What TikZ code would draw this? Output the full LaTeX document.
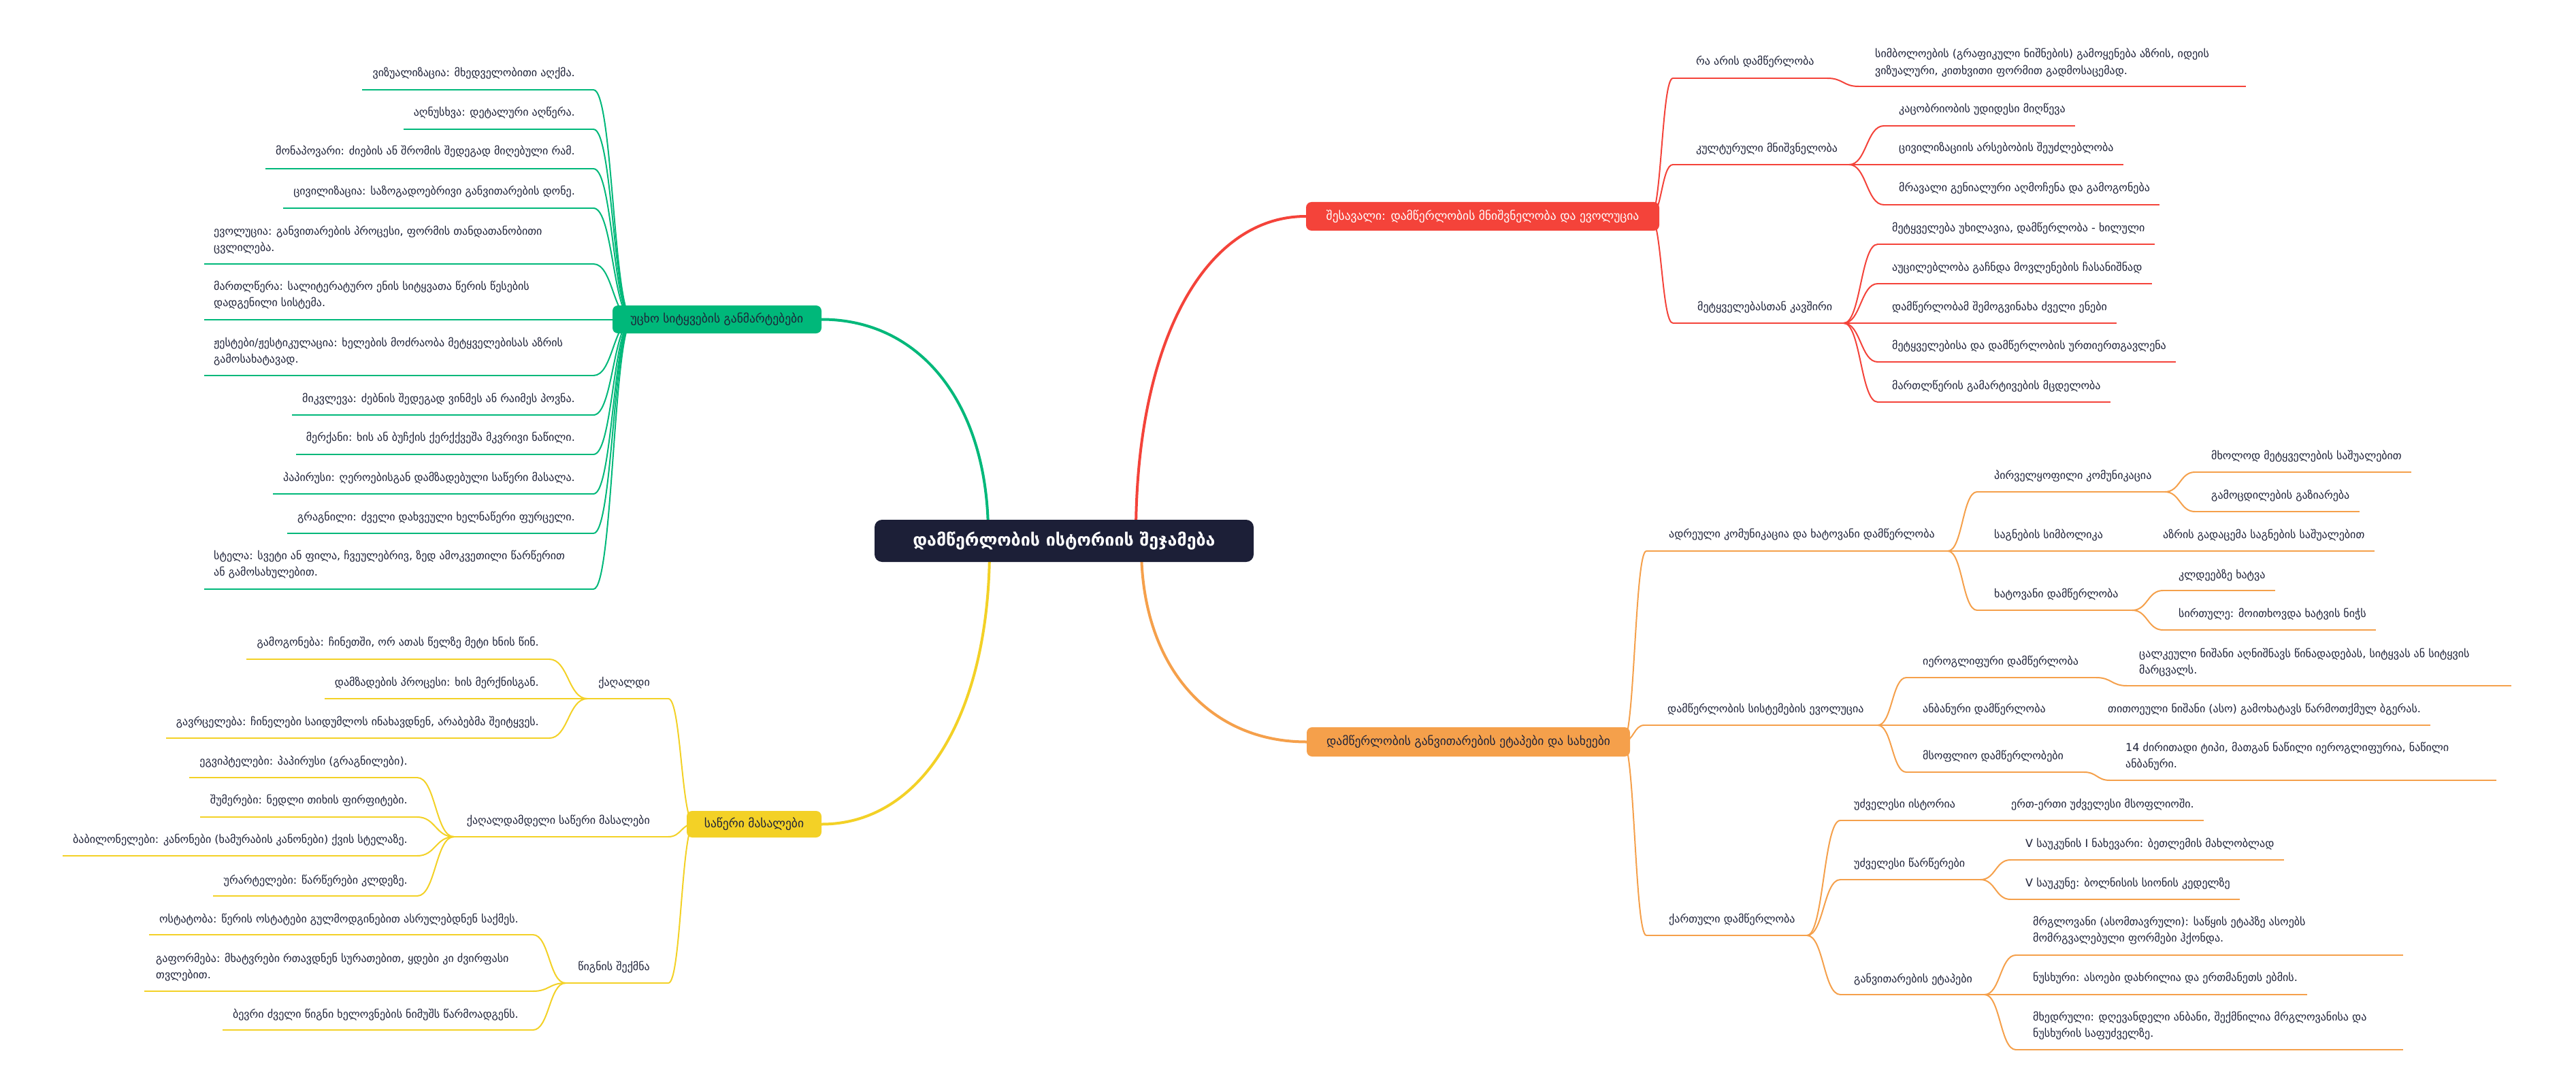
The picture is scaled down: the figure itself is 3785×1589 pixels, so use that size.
\documentclass[tikz,border=0pt]{standalone}
\usepackage{fontspec}
\setmainfont{DejaVu Sans}
\usetikzlibrary{calc}
\pgfdeclarelayer{bg}
\pgfdeclarelayer{paper}
\pgfsetlayers{paper,bg,main}
\definecolor{ink}{HTML}{1E2238}
\definecolor{cred}{HTML}{F4433A}
\definecolor{corange}{HTML}{F5A04B}
\definecolor{cgreen}{HTML}{00B87A}
\definecolor{cyellow}{HTML}{F3D126}
\definecolor{cnavy}{HTML}{1C1F37}
\newcommand\twol[2]{\vtop{\hbox{#1}\hbox{#2}}}
\newcommand\sconn[3]{\draw[#1] let \p1=(#2), \p2=(#3) in (\p1) .. controls ({0.5*\x1+0.5*\x2},\y1) and ({0.5*\x1+0.5*\x2},\y2) .. (\p2);}
\newcommand\mconn[3]{\draw[#1] let \p1=(#2), \p2=(#3) in (\p1) .. controls (\x1,{\y1+0.6*(\y2-\y1)}) and ({\x1+0.4*(\x2-\x1)},\y2) .. (\p2);}
% right item with fixed line: color,name,fork,xs,xe,y,pos,text
\newcommand\Rfix[8]{%
 \coordinate (#2S) at (#4,#6); \coordinate (#2E) at (#5,#6);
 \node[t, anchor=base west] (#2) at (#7) {#8};
 \begin{pgfonlayer}{bg}\sconn{cn,#1}{#3}{#2S}\draw[ul,#1] (#2S) -- (#2E);\end{pgfonlayer}}
% right leaf: color,name,fork,xs,y,pos,text
\newcommand\Rleaf[7]{%
 \coordinate (#2S) at (#4,#5);
 \node[t, anchor=base west] (#2) at (#6) {#7};
 \begin{pgfonlayer}{bg}\sconn{cn,#1}{#3}{#2S}\draw[ul,#1] (#2S) -- (#2S -| #2.east) -- ++(14,0);\end{pgfonlayer}}
% left leaf: color,name,fork,xe,y,pos,text
\newcommand\Lleaf[7]{%
 \coordinate (#2E) at (#4,#5);
 \node[t, anchor=base east] (#2) at (#6) {#7};
 \begin{pgfonlayer}{bg}\sconn{cn,#1}{#2E}{#3}\draw[ul,#1] (#2E) -- (#2E -| #2.west) -- ++(-15,0);\end{pgfonlayer}}
% left fixed: color,name,fork,xs,xe,y,anchor,pos,text
\newcommand\Lfix[9]{%
 \coordinate (#2S) at (#4,#6); \coordinate (#2E) at (#5,#6);
 \node[t, anchor=#7] (#2) at (#8) {#9};
 \begin{pgfonlayer}{bg}\sconn{cn,#1}{#2E}{#3}\draw[ul,#1] (#2S) -- (#2E);\end{pgfonlayer}}
\begin{document}
\begin{tikzpicture}[x=1pt,y=-1pt,
 t/.style={font=\fontsize{16}{24.5}\selectfont, text=ink, inner sep=0pt},
 ul/.style={line width=2.5pt},
 cn/.style={line width=2pt},
 mc/.style={line width=4pt},
 box/.style={rounded corners=8pt, inner sep=0pt, font=\fontsize{17.5}{20}\selectfont}]
\begin{pgfonlayer}{paper}
\fill[white] (0,0) rectangle (3785,1589);
\end{pgfonlayer}
\useasboundingbox (0,0) rectangle (3785,1589);
% boxes
\node[box, fill=cnavy, text=white, minimum width=557pt, minimum height=62pt, rounded corners=11pt, font=\fontsize{25}{30}\selectfont\bfseries] (root) at (1563.5,795) {დამწერლობის ისტორიის შეჯამება};
\node[box, fill=cred, text=white, minimum width=519pt, minimum height=42pt] (red) at (2178.5,318) {შესავალი: დამწერლობის მნიშვნელობა და ევოლუცია};
\node[box, fill=corange, text=ink, minimum width=475pt, minimum height=43pt] (orange) at (2157.5,1090.5) {დამწერლობის განვითარების ეტაპები და სახეები};
\node[box, fill=cgreen, text=ink, minimum width=307pt, minimum height=41pt] (green) at (1053.5,469.5) {უცხო სიტყვების განმარტებები};
\node[box, fill=cyellow, text=ink, minimum width=198pt, minimum height=39pt] (yellow) at (1108,1211.5) {საწერი მასალები};
\coordinate (rootR) at (1669,785);
\coordinate (rootO) at (1677,806);
\coordinate (rootG) at (1452,785);
\coordinate (rootY) at (1454,806);
\coordinate (Rf) at (2425,318);
\coordinate (Of) at (2385,1090);
\coordinate (Gf) at (930,470);
\coordinate (Yf) at (1020,1211);
\begin{pgfonlayer}{bg}
\mconn{mc,cred}{rootR}{red.west}
\mconn{mc,corange}{rootO}{orange.west}
\mconn{mc,cgreen}{rootG}{green.east}
\mconn{mc,cyellow}{rootY}{yellow.east}
\end{pgfonlayer}
% RED
\Rfix{cred}{R1}{Rf}{2458}{2685}{115}{2492,96}{რა არის დამწერლობა}
\Rfix{cred}{R1a}{R1E}{2731}{3300}{127}{2755,85}{\twol{სიმბოლოების (გრაფიკული ნიშნების) გამოყენება აზრის, იდეის}{ვიზუალური, კითხვითი ფორმით გადმოსაცემად.}}
\Rfix{cred}{R2}{Rf}{2458}{2717}{242}{2492,224}{კულტურული მნიშვნელობა}
\Rleaf{cred}{R2a}{R2E}{2768}{185}{2790,166}{კაცობრიობის უდიდესი მიღწევა}
\Rleaf{cred}{R2b}{R2E}{2768}{242}{2790,223}{ცივილიზაციის არსებობის შეუძლებლობა}
\Rleaf{cred}{R2c}{R2E}{2768}{301}{2790,282}{მრავალი გენიალური აღმოჩენა და გამოგონება}
\Rfix{cred}{R3}{Rf}{2458}{2709}{475}{2494,456}{მეტყველებასთან კავშირი}
\Rleaf{cred}{R3a}{R3E}{2759}{359}{2780,340}{მეტყველება უხილავია, დამწერლობა - ხილული}
\Rleaf{cred}{R3b}{R3E}{2759}{417}{2780,398}{აუცილებლობა გაჩნდა მოვლენების ჩასანიშნად}
\Rleaf{cred}{R3c}{R3E}{2759}{475}{2780,456}{დამწერლობამ შემოგვინახა ძველი ენები}
\Rleaf{cred}{R3d}{R3E}{2759}{532}{2780,513}{მეტყველებისა და დამწერლობის ურთიერთგავლენა}
\Rleaf{cred}{R3e}{R3E}{2759}{591}{2780,572}{მართლწერის გამარტივების მცდელობა}
% ORANGE
\Rfix{corange}{O1}{Of}{2419}{2862}{810}{2452,790}{ადრეული კომუნიკაცია და ხატოვანი დამწერლობა}
\Rfix{corange}{O1a}{O1E}{2905}{3181}{723}{2930,704}{პირველყოფილი კომუნიკაცია}
\Rleaf{corange}{O1a1}{O1aE}{3225}{694}{3249,675}{მხოლოდ მეტყველების საშუალებით}
\Rleaf{corange}{O1a2}{O1aE}{3225}{752}{3249,733}{გამოცდილების გაზიარება}
\Rfix{corange}{O1b}{O1E}{2905}{3154}{810}{2930,791}{საგნების სიმბოლიკა}
\Rleaf{corange}{O1b1}{O1bE}{3154}{810}{3178,791}{აზრის გადაცემა საგნების საშუალებით}
\Rfix{corange}{O1c}{O1E}{2905}{3133}{897}{2930,878}{ხატოვანი დამწერლობა}
\Rleaf{corange}{O1c1}{O1cE}{3178}{868}{3201,850}{კლდეებზე ხატვა}
\Rleaf{corange}{O1c2}{O1cE}{3178}{926}{3201,907}{სირთულე: მოითხოვდა ხატვის ნიჭს}
\Rfix{corange}{O2}{Of}{2416}{2759}{1066}{2450,1047}{დამწერლობის სისტემების ევოლუცია}
\Rfix{corange}{O2a}{O2E}{2801}{3080}{996}{2825,977}{იეროგლიფური დამწერლობა}
\Rfix{corange}{O2a1}{O2aE}{3125}{3690}{1008}{3143,966}{\twol{ცალკეული ნიშანი აღნიშნავს წინადადებას, სიტყვას ან სიტყვის}{მარცვალს.}}
\Rfix{corange}{O2b}{O2E}{2801}{3075}{1066}{2825,1047}{ანბანური დამწერლობა}
\Rleaf{corange}{O2b1}{O2bE}{3075}{1066}{3097,1047}{თითოეული ნიშანი (ასო) გამოხატავს წარმოთქმულ ბგერას.}
\Rfix{corange}{O2c}{O2E}{2801}{3062}{1135}{2825,1116}{მსოფლიო დამწერლობები}
\Rfix{corange}{O2c1}{O2cE}{3100}{3668}{1147}{3123,1104}{\twol{14 ძირითადი ტიპი, მათგან ნაწილი იეროგლიფურია, ნაწილი}{ანბანური.}}
\Rfix{corange}{O3}{Of}{2419}{2655}{1375}{2452,1356}{ქართული დამწერლობა}
\Rfix{corange}{O3a}{O3E}{2704}{2930}{1206}{2724,1187}{უძველესი ისტორია}
\Rleaf{corange}{O3a1}{O3aE}{2930}{1206}{2955,1187}{ერთ-ერთი უძველესი მსოფლიოში.}
\Rfix{corange}{O3b}{O3E}{2704}{2910}{1293}{2724,1274}{უძველესი წარწერები}
\Rleaf{corange}{O3b1}{O3bE}{2954}{1264}{2976,1245}{V საუკუნის I ნახევარი: ბეთლემის მახლობლად}
\Rleaf{corange}{O3b2}{O3bE}{2954}{1322}{2976,1303}{V საუკუნე: ბოლნისის სიონის კედელზე}
\Rfix{corange}{O3c}{O3E}{2704}{2916}{1462}{2724,1444}{განვითარების ეტაპები}
\Rfix{corange}{O3c1}{O3cE}{2962}{3531}{1404}{2987,1360}{\twol{მრგლოვანი (ასომთავრული): საწყის ეტაპზე ასოებს}{მომრგვალებული ფორმები ჰქონდა.}}
\Rleaf{corange}{O3c2}{O3cE}{2962}{1462}{2987,1442}{ნუსხური: ასოები დახრილია და ერთმანეთს ებმის.}
\Rfix{corange}{O3c3}{O3cE}{2962}{3531}{1543}{2987,1500}{\twol{მხედრული: დღევანდელი ანბანი, შექმნილია მრგლოვანისა და}{ნუსხურის საფუძველზე.}}
% GREEN
\Lleaf{cgreen}{G1}{Gf}{872}{132}{845,113}{ვიზუალიზაცია: მხედველობითი აღქმა.}
\Lleaf{cgreen}{G2}{Gf}{872}{190}{845,171}{აღნუსხვა: დეტალური აღწერა.}
\Lleaf{cgreen}{G3}{Gf}{872}{248}{845,228}{მონაპოვარი: ძიების ან შრომის შედეგად მიღებული რამ.}
\Lleaf{cgreen}{G4}{Gf}{872}{306}{845,287}{ცივილიზაცია: საზოგადოებრივი განვითარების დონე.}
\Lfix{cgreen}{G5}{Gf}{300}{872}{388}{base west}{314,345}{\twol{ევოლუცია: განვითარების პროცესი, ფორმის თანდათანობითი}{ცვლილება.}}
\Lfix{cgreen}{G6}{Gf}{300}{872}{470}{base west}{314,426}{\twol{მართლწერა: სალიტერატურო ენის სიტყვათა წერის წესების}{დადგენილი სისტემა.}}
\Lfix{cgreen}{G7}{Gf}{300}{872}{552}{base west}{314,509}{\twol{ჟესტები/ჟესტიკულაცია: ხელების მოძრაობა მეტყველებისას აზრის}{გამოსახატავად.}}
\Lleaf{cgreen}{G8}{Gf}{872}{610}{845,591}{მიკვლევა: ძებნის შედეგად ვინმეს ან რაიმეს პოვნა.}
\Lleaf{cgreen}{G9}{Gf}{872}{668}{845,648}{მერქანი: ხის ან ბუჩქის ქერქქვეშა მკვრივი ნაწილი.}
\Lleaf{cgreen}{G10}{Gf}{872}{726}{845,707}{პაპირუსი: ღეროებისგან დამზადებული საწერი მასალა.}
\Lleaf{cgreen}{G11}{Gf}{872}{784}{845,765}{გრაგნილი: ძველი დახვეული ხელნაწერი ფურცელი.}
\Lfix{cgreen}{G12}{Gf}{300}{872}{866}{base west}{314,822}{\twol{სტელა: სვეტი ან ფილა, ჩვეულებრივ, ზედ ამოკვეთილი წარწერით}{ან გამოსახულებით.}}
% YELLOW
\Lfix{cyellow}{Y1}{Yf}{863}{982}{1027}{base east}{955,1008}{ქაღალდი}
\Lleaf{cyellow}{Y1a}{Y1S}{807}{969}{792,949}{გამოგონება: ჩინეთში, ორ ათას წელზე მეტი ხნის წინ.}
\Lleaf{cyellow}{Y1b}{Y1S}{807}{1027}{792,1008}{დამზადების პროცესი: ხის მერქნისგან.}
\Lleaf{cyellow}{Y1c}{Y1S}{807}{1085}{792,1066}{გავრცელება: ჩინელები საიდუმლოს ინახავდნენ, არაბებმა შეიტყვეს.}
\Lfix{cyellow}{Y2}{Yf}{667}{982}{1230}{base east}{955,1211}{ქაღალდამდელი საწერი მასალები}
\Lleaf{cyellow}{Y2a}{Y2S}{613}{1143}{599,1124}{ეგვიპტელები: პაპირუსი (გრაგნილები).}
\Lleaf{cyellow}{Y2b}{Y2S}{613}{1201}{599,1181}{შუმერები: ნედლი თიხის ფირფიტები.}
\Lleaf{cyellow}{Y2c}{Y2S}{613}{1258}{599,1239}{ბაბილონელები: კანონები (ხამურაბის კანონები) ქვის სტელაზე.}
\Lleaf{cyellow}{Y2d}{Y2S}{613}{1317}{599,1299}{ურარტელები: წარწერები კლდეზე.}
\Lfix{cyellow}{Y3}{Yf}{831}{982}{1445}{base east}{955,1426}{წიგნის შექმნა}
\Lleaf{cyellow}{Y3a}{Y3S}{783}{1374}{762,1356}{ოსტატობა: წერის ოსტატები გულმოდგინებით ასრულებდნენ საქმეს.}
\Lfix{cyellow}{Y3b}{Y3S}{212}{783}{1457}{base west}{229,1414}{\twol{გაფორმება: მხატვრები რთავდნენ სურათებით, ყდები კი ძვირფასი}{თვლებით.}}
\Lleaf{cyellow}{Y3c}{Y3S}{783}{1514}{762,1496}{ბევრი ძველი წიგნი ხელოვნების ნიმუშს წარმოადგენს.}
\end{tikzpicture}
\end{document}
